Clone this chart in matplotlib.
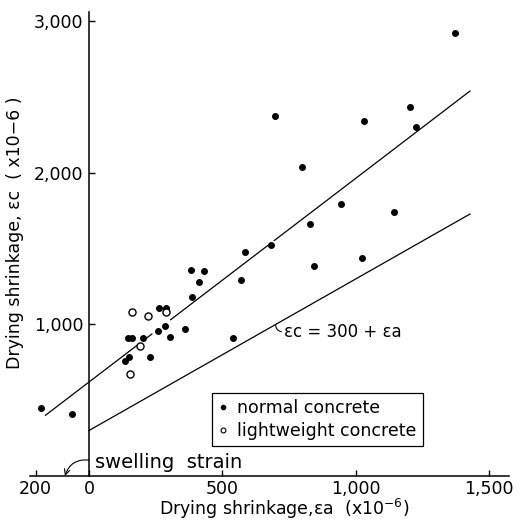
import numpy as np
import matplotlib.pyplot as plt
from matplotlib.lines import Line2D

# drying shrinkage of aggregate (eps_a) and of concrete (eps_c), x10^-6
normal_a = [-181, -64, 135, 150, 148, 160, 204, 229, 260, 261, 288, 285, 303,
            360, 381, 388, 414, 433, 540, 570, 584, 683, 699, 800, 829, 845,
            944, 1025, 1033, 1145, 1203, 1227, 1373]
normal_c = [451, 411, 761, 783, 911, 911, 911, 785, 957, 1107, 1111, 992, 917,
            970, 1360, 1180, 1278, 1353, 913, 1292, 1481, 1525, 2378, 2040,
            1661, 1386, 1795, 1441, 2345, 1745, 2438, 2306, 2922]
light_a = [155, 161, 190, 221, 290]
light_c = [675, 1083, 856, 1056, 1080]

# fitted line, drawn in pieces so it stops short of the dots
fit_intercept = 620
fit_slope = 1.344
fit_pieces = [(-163, 184), (218, 236), (306, 670), (695, 1429)]

# lower limit: eps_c = 300 + eps_a
limit_offset = 300
limit_end = 1429

xticks = [-200, 0, 500, 1000, 1500]
xticklabels = ["200", "0", "500", "1,000", "1,500"]
yticks = [1000, 2000, 3000]
yticklabels = ["1,000", "2,000", "3,000"]

plt.rcParams['font.family'] = ['DejaVu Sans']
fs = 12.5

fig = plt.figure(figsize=(5.2, 5.23), dpi=100)
ax = fig.add_axes([0.0573, 0.0899, 0.9213, 0.8864])
ax.set_xlim(-222, 1575)
ax.set_ylim(0, 3060)

for s in ['top', 'right']:
    ax.spines[s].set_visible(False)
ax.spines['left'].set_position(('data', 0))
ax.spines['left'].set_linewidth(1.1)
ax.spines['bottom'].set_linewidth(1.1)

ax.set_xticks(xticks)
ax.set_xticklabels(xticklabels)
ax.set_yticks(yticks)
ax.set_yticklabels(yticklabels)
ax.tick_params(direction='in', length=4, width=1, labelsize=fs, pad=4)
ax.tick_params(axis='x', pad=3)

for a, b in fit_pieces:
    xs = np.array([a, b])
    ax.plot(xs, fit_intercept + fit_slope * xs, color='k', lw=0.9)

xs = np.array([0, limit_end])
ax.plot(xs, limit_offset + xs, color='k', lw=0.9)

ax.scatter(normal_a, normal_c, s=16, color='k', zorder=3)
ax.scatter(light_a, light_c, s=26, facecolor='white', edgecolor='k',
           linewidth=1.0, zorder=3)

# label of the lower line with a small hook onto it
ax.text(732, 950, "εc = 300 + εa", va='center', ha='left', fontsize=12)
ax.annotate("", xy=(700, 1000), xytext=(722, 952),
            arrowprops=dict(arrowstyle='-', connectionstyle='arc3,rad=-0.4',
                            lw=0.8, shrinkA=0, shrinkB=0))

ax.text(22, 86, "swelling  strain", va='center', ha='left', fontsize=14)
ax.annotate("", xy=(-90, 0), xytext=(0, 105),
            arrowprops=dict(arrowstyle='->', connectionstyle='arc3,rad=0.4',
                            lw=0.8, shrinkA=0, shrinkB=0))

handles = [
    Line2D([], [], ls='', marker='o', ms=3, color='k'),
    Line2D([], [], ls='', marker='o', ms=3.5, mfc='white', mec='k', mew=0.8),
]
leg = ax.legend(handles, ["normal concrete", "lightweight concrete"],
                loc='upper left', bbox_to_anchor=(461, 548),
                bbox_transform=ax.transData, fontsize=fs, frameon=True,
                fancybox=False, edgecolor='k', framealpha=1,
                handlelength=0.6, handletextpad=0.5, borderpad=0.35,
                labelspacing=0.3, borderaxespad=0)
leg.get_frame().set_linewidth(0.9)

ax.set_xlabel("Drying shrinkage,εa  (x10$^{-6}$)", fontsize=fs)
ax.set_ylabel("Drying shrinkage, εc  ( x10−6 )", fontsize=fs)
ax.xaxis.set_label_coords(0.531, -0.046)
ax.yaxis.set_label_coords(-0.013, 0.524)

fig.savefig("out.png", dpi=100)
